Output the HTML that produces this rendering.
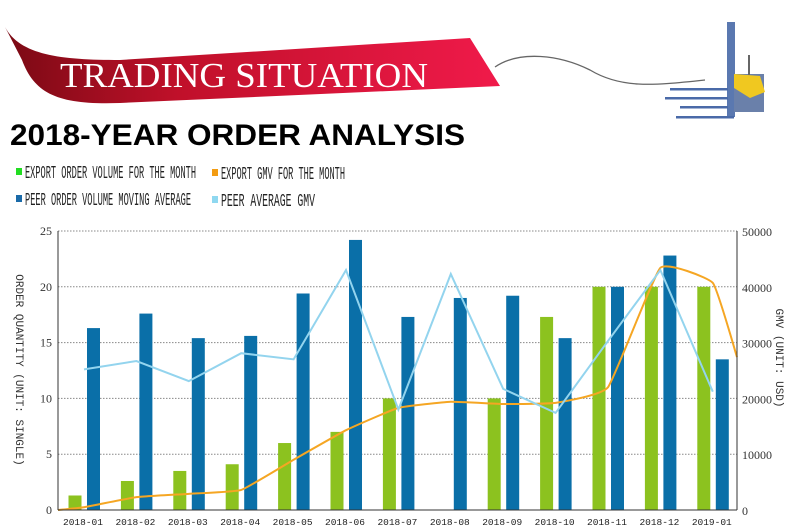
<!DOCTYPE html>
<html><head><meta charset="utf-8"><style>
html,body{margin:0;padding:0;background:#fff;}
svg{display:block;}
</style></head><body>
<svg id="chart" width="800" height="529" viewBox="0 0 800 529" xmlns="http://www.w3.org/2000/svg">
<defs>
<linearGradient id="rib" x1="0" x2="1" y1="0" y2="0">
<stop offset="0" stop-color="#7a0a14"/><stop offset="0.35" stop-color="#c0102a"/><stop offset="1" stop-color="#f01a4a"/>
</linearGradient>
</defs>
<g>
<path d="M5,27 C20,55 60,60 120,60 L470,38 L500,86 L120,103 C60,105 35,95 22,60 Z" fill="url(#rib)"/>
<text x="60" y="87" font-family="Liberation Serif, serif" font-size="35" fill="#fff" textLength="368" lengthAdjust="spacingAndGlyphs">TRADING SITUATION</text>
</g>
<path d="M495,67 C520,50 560,55 590,70 C620,88 650,86 705,80" fill="none" stroke="#666" stroke-width="1.3"/>
<g>
<rect x="727" y="22" width="8" height="95" fill="#5a78b0"/>
<rect x="734" y="74" width="30" height="38" fill="#6a80aa"/>
<path d="M734,74 L760,76 L765,92 L750,98 L734,88 Z" fill="#f0c820"/>
<rect x="748" y="55" width="2" height="20" fill="#666"/>
<rect x="670" y="88" width="58" height="2.5" fill="#4a6aa8"/>
<rect x="665" y="97" width="63" height="2.5" fill="#4a6aa8"/>
<rect x="680" y="106" width="48" height="2.5" fill="#4a6aa8"/>
<rect x="676" y="116" width="58" height="2.5" fill="#4a6aa8"/>
</g>
<text x="10" y="145" font-family="Liberation Sans, sans-serif" font-weight="bold" font-size="30" fill="#000" textLength="455" lengthAdjust="spacingAndGlyphs">2018-YEAR ORDER ANALYSIS</text>
<g font-family="Liberation Mono, monospace" font-size="18" fill="#222">
<g><rect x="16" y="168" width="6" height="7" fill="#22dd22"/><text x="25" y="178" textLength="171" lengthAdjust="spacingAndGlyphs">EXPORT ORDER VOLUME FOR THE MONTH</text></g>
<g><rect x="212" y="169" width="6" height="7" fill="#f39c12"/><text x="221" y="179" textLength="124" lengthAdjust="spacingAndGlyphs">EXPORT GMV FOR THE MONTH</text></g>
<g><rect x="16" y="195" width="6" height="7" fill="#1a6aa8"/><text x="25" y="205" textLength="166" lengthAdjust="spacingAndGlyphs">PEER ORDER VOLUME MOVING AVERAGE</text></g>
<g><rect x="212" y="196" width="6" height="7" fill="#8fd8f0"/><text x="221" y="206" textLength="94" lengthAdjust="spacingAndGlyphs">PEER AVERAGE GMV</text></g>
</g>
<g id="plot"></g>
</svg>
<script>
const categories = ["2018-01","2018-02","2018-03","2018-04","2018-05","2018-06","2018-07","2018-08","2018-09","2018-10","2018-11","2018-12","2019-01"];
const exportVolume = [1.3,2.6,3.5,4.1,6,7,10,0,10,17.3,20,20,20];
const peerVolume = [16.3,17.6,15.4,15.6,19.4,24.2,17.3,19.0,19.2,15.4,20,22.8,13.5];
const exportGmv = [500,2300,2900,3600,9000,14300,18300,19400,19000,19200,22000,43400,40700];
const exportGmvStart = 0;
const exportGmvEnd = 27400;
const peerGmv = [25200,26700,23100,28100,27000,43000,18000,42300,21700,17400,30300,43000,21200];
const leftTicks = [0,5,10,15,20,25];
const rightTicks = [0,10000,20000,30000,40000,50000];

const NS="http://www.w3.org/2000/svg";
const plot=document.getElementById('plot');
const X0=58,X1=737,Y0=510,Y1=231;
const yL=v=>Y0-(v/25)*(Y0-Y1);
const yR=v=>Y0-(v/50000)*(Y0-Y1);
const xC=i=>84+i*52.4;
function mk(tag,attrs,parent){const e=document.createElementNS(NS,tag);for(const k in attrs)e.setAttribute(k,attrs[k]);(parent||plot).appendChild(e);return e;}

leftTicks.forEach((t,i)=>{
  if(t>0){const g=mk('line',{x1:X0,x2:X1,y1:yL(t),y2:yL(t),stroke:'#888','stroke-dasharray':'1.5,1.5','stroke-width':1});
  
  }
  const tx=mk('text',{x:52,y:yL(t)+4,'text-anchor':'end','font-family':'Liberation Serif, serif','font-size':12,fill:'#333'});
  tx.textContent=t;
  
  
});
rightTicks.forEach(t=>{
  const tx=mk('text',{x:742,y:yR(t)+5,'font-family':'Liberation Serif, serif','font-size':12,fill:'#333'});
  tx.textContent=t;
  
  
});
categories.forEach((c,i)=>{
  const g=mk('rect',{x:xC(i)-15.5,y:yL(exportVolume[i]),width:13,height:Y0-yL(exportVolume[i]),fill:'#8cc21f'});
  
  
  const b=mk('rect',{x:xC(i)+3,y:yL(peerVolume[i]),width:13,height:Y0-yL(peerVolume[i]),fill:'#0a6fa8'});
  
  
  const tx=mk('text',{x:xC(i)-1,y:525,'text-anchor':'middle','font-family':'Liberation Mono, monospace','font-size':9.5,fill:'#222'});
  tx.textContent=c;
  
  
});
const op=[[X0,yR(exportGmvStart)]].concat(exportGmv.map((v,i)=>[xC(i),yR(v)])).concat([[X1,yR(exportGmvEnd)]]);
let d='M'+op[0][0]+','+op[0][1];
for(let i=0;i<op.length-1;i++){
  const p0=op[Math.max(0,i-1)],p1=op[i],p2=op[i+1],p3=op[Math.min(op.length-1,i+2)];
  const t=0.06;
  d+=` C${p1[0]+(p2[0]-p0[0])*t},${p1[1]+(p2[1]-p0[1])*t} ${p2[0]-(p3[0]-p1[0])*t},${p2[1]-(p3[1]-p1[1])*t} ${p2[0]},${p2[1]}`;
}
const ol=mk('path',{d:d,fill:'none',stroke:'#f5a623','stroke-width':2});


const pl=mk('polyline',{points:peerGmv.map((v,i)=>xC(i)+','+yR(v)).join(' '),fill:'none',stroke:'#93d4ee','stroke-width':2});


const la=mk('line',{x1:X0,x2:X0,y1:Y1,y2:Y0,stroke:'#333','stroke-width':1});


const ra=mk('line',{x1:X1,x2:X1,y1:Y1,y2:Y0,stroke:'#333','stroke-width':1});


const ba=mk('line',{x1:X0,x2:X1,y1:Y0,y2:Y0,stroke:'#333','stroke-width':1});


const lt=mk('text',{transform:'translate(16,370) rotate(90)','text-anchor':'middle','font-family':'Liberation Mono, monospace','font-size':11,fill:'#333'});
lt.textContent='ORDER QUANTITY (UNIT: SINGLE)';


const rt=mk('text',{transform:'translate(776,358) rotate(90)','text-anchor':'middle','font-family':'Liberation Mono, monospace','font-size':11,fill:'#333'});
rt.textContent='GMV (UNIT: USD)';


</script>
</body></html>
